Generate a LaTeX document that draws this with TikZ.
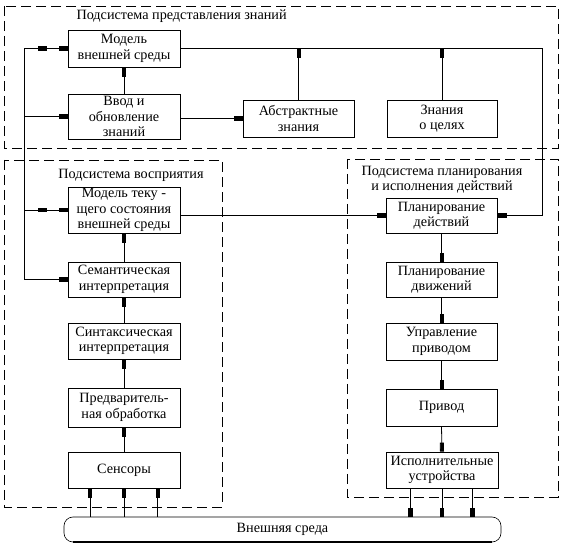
\documentclass[tikz,border=0pt]{standalone}
\usepackage{fontspec}
\setmainfont{Liberation Serif}
\usetikzlibrary{arrows.meta,calc}
\begin{document}
\begin{tikzpicture}[x=1pt,y=-1pt,
  font=\fontsize{14.2}{15.5}\selectfont,
  box/.style={draw,line width=0.8pt,align=center,inner sep=0pt,minimum width=112pt},
  grp/.style={draw,line width=0.8pt,dash pattern=on 10pt off 5pt},
  ln/.style={line width=0.8pt},
  arr/.style={ln,-{Rectangle[length=9pt,width=4pt]}},
  darr/.style={ln,-{Rectangle[length=9pt,width=4pt,sep=12pt]Rectangle[length=9pt,width=4pt]}}]
\useasboundingbox (0,0) rectangle (563,545);
% groups
\draw[grp] (4,6) rectangle (558,148);
\draw[grp] (4,160) rectangle (222,507);
\draw[grp] (347,159) rectangle (558,497);
\node[anchor=west] (t1) at (73,16) {Подсистема представления знаний};
\node (t2) at (131,175) {Подсистема восприятия};
\node[align=center] (t3) at (442,179.5) {Подсистема планирования\\и исполнения действий};
% boxes
\node[box,minimum height=37pt] (mvs) at (124,48.5) {Модель\\внешней среды};
\node[box,minimum height=45pt] (vvod) at (124,116.5) {Ввод и\\обновление\\знаний};
\node[box,minimum width=111pt,minimum height=37pt] (abs) at (298.5,118.5) {Абстрактные\\знания};
\node[box,minimum width=110pt,minimum height=37pt] (cel) at (442,118.5) {Знания\\о целях};
\node[box,minimum height=46pt] (mtek) at (124,210) {Модель теку -\\щего состояния\\внешней среды};
\node[box,minimum height=35pt] (sem) at (124,279.5) {Семантическая\\интерпретация};
\node[box,minimum height=36pt] (sin) at (124,341) {Синтаксическая\\интерпретация};
\node[box,minimum height=39pt] (pre) at (124,407.5) {Предваритель-\\ная обработка};
\node[box,minimum height=36pt] (sen) at (124,470) {Сенсоры};
\node[box,minimum width=111pt,minimum height=35pt] (pd) at (441.5,215.5) {Планирование\\действий};
\node[box,minimum width=111pt,minimum height=35pt] (pdv) at (441.5,279.5) {Планирование\\движений};
\node[box,minimum width=111pt,minimum height=37pt] (upr) at (441.5,341.5) {Управление\\приводом};
\node[box,minimum width=111pt,minimum height=37pt] (priv) at (441.5,407.5) {Привод};
\node[box,minimum width=112pt,minimum height=36pt] (isp) at (442,470) {Исполнительные\\устройства};
\node[draw,line width=0.6pt,rounded corners=9pt,minimum width=437pt,minimum height=25pt,inner sep=0pt] (env) at (282.5,529.5) {Внешняя среда};
\draw[line width=1.8pt] ([xshift=9pt]env.south west) -- ([xshift=-9pt]env.south east);
% buses
\coordinate (bL) at (24,48.5);
\coordinate (bR) at (542,48.5);
\draw[darr] (bL) -- (mvs.west);
\draw[ln] (bL) -- (bL |- sem.west);
\draw[arr] (bL |- vvod.west) -- (vvod.west);
\draw[darr] (bL |- mtek.west) -- (mtek.west);
\draw[arr] (bL |- sem.west) -- (sem.west);
\draw[arr] (mvs.east) -- (bR) |- (pd.east);
\draw[arr] (abs.north) -- (abs.north |- bR);
\draw[arr] (cel.north) -- (cel.north |- bR);
\draw[arr] (vvod.north) -- (mvs.south);
\draw[arr] (abs.west -| vvod.east) -- (abs.west);
\draw[arr] (pd.west -| mtek.east) -- (pd.west);
% perception chain
\draw[arr] (sem.north) -- (mtek.south);
\draw[arr] (sin.north) -- (sem.south);
\draw[arr] (pre.north) -- (sin.south);
\draw[arr] (sen.north) -- (pre.south);
% planning chain
\draw[arr] (pd.south) -- (pdv.north);
\draw[arr] (pdv.south) -- (upr.north);
\draw[arr] (upr.south) -- (priv.north);
\draw[arr] (priv.south) -- (isp.north);
% environment links
\foreach \f/\i in {0.2/1,0.5/2,0.8/3}{
  \coordinate (s\i) at ($(sen.south west)!\f!(sen.south east)$);
  \draw[arr] (s\i |- env.north) -- (s\i);
}
\foreach \f/\i in {0.22/1,0.5/2,0.77/3}{
  \coordinate (p\i) at ($(isp.south west)!\f!(isp.south east)$);
  \draw[arr] (p\i) -- (p\i |- env.north);
}
\end{tikzpicture}
\end{document}
